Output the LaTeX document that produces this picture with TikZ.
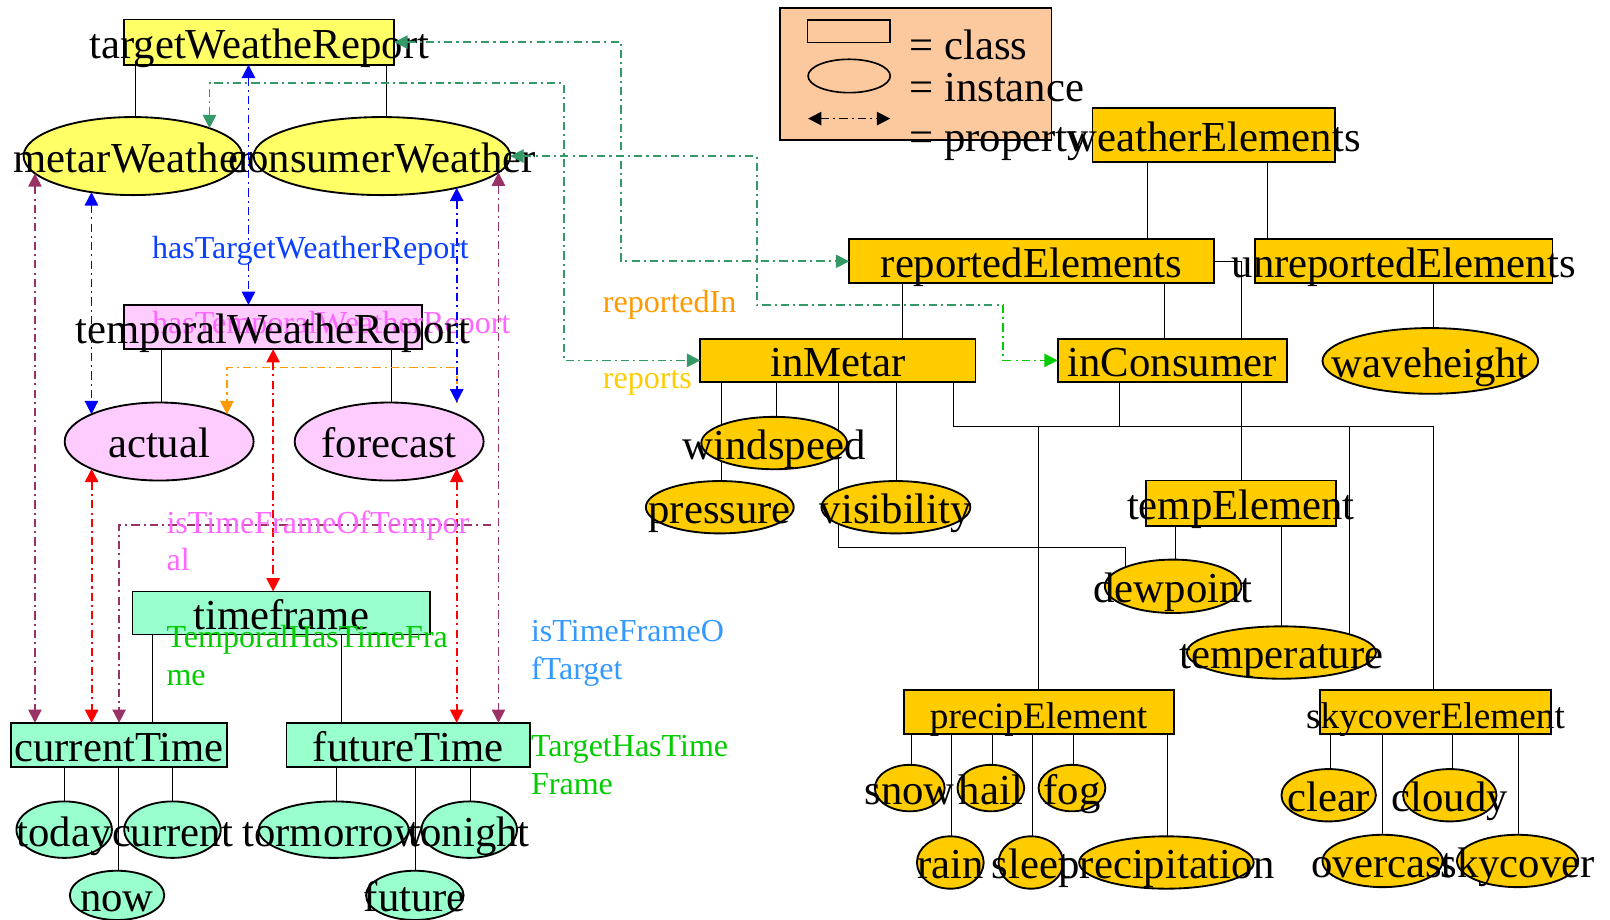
\documentclass[tikz,border=0pt]{standalone}
\usepackage{fontspec}
\setmainfont{Liberation Serif}
\usetikzlibrary{shapes.geometric,arrows.meta,backgrounds}

\definecolor{clsYellow}{HTML}{FFFF66}
\definecolor{clsPink}{HTML}{FFCCFF}
\definecolor{clsMint}{HTML}{99FFCC}
\definecolor{clsGold}{HTML}{FFCC00}
\definecolor{legendPeach}{HTML}{FCC99E}
\definecolor{propBlue}{HTML}{0000FF}
\definecolor{propRed}{HTML}{FF0000}
\definecolor{propPlum}{HTML}{993366}
\definecolor{propSea}{HTML}{339966}
\definecolor{propGreen}{HTML}{00CC00}
\definecolor{propOrange}{HTML}{FF9900}
\definecolor{txtBlue}{HTML}{0A40FF}
\definecolor{txtMagenta}{HTML}{FF66FF}
\definecolor{txtSky}{HTML}{3399FF}

\newcommand\FontBig{\fontsize{41.6pt}{48pt}\selectfont}
\newcommand\FontMid{\fontsize{36.3pt}{42pt}\selectfont}
\newcommand\FontSmall{\fontsize{31.2pt}{36pt}\selectfont}
% text that may spill over its shape without widening it
\newcommand\ovl[1]{\makebox[0pt]{#1}}

\begin{document}
\begin{tikzpicture}[x=1pt, y=-1pt, >={Triangle[length=13pt,width=13pt]},
  nd/.style={draw=black, line width=1.8pt, inner sep=0pt, outer sep=0pt,
             text height=32pt, text depth=0pt, font=\FontBig},
  cls/.style={nd, rectangle},
  inst/.style={nd, ellipse},
  sz/.style 2 args={minimum width=#1pt, minimum height=#2pt},
  treeline/.style={line width=1.8pt, black},
  propline/.style={line width=1.7pt, dash pattern=on 8pt off 4pt on 2pt off 4pt},
  lbl/.style={font=\FontSmall, inner sep=0pt, anchor=base west},
  leg/.style={font=\FontBig, inner sep=0pt, anchor=base west}]

\useasboundingbox (0,0) rectangle (1568,896);

% ---------- legend ----------
\node[draw, line width=1.8pt, fill=legendPeach, sz={264}{128}, inner sep=0pt] (legend) at (892,72) {};
\node[draw, line width=1.6pt, sz={80}{21.5}, inner sep=0pt] (legCls) at (826.5,30.5) {};
\node[draw, ellipse, line width=1.6pt, sz={80}{32.5}, inner sep=0pt] (legInst) at (827,74) {};
\coordinate (legA) at (787,115.5);
\coordinate (legB) at (867,115.5);
\draw[propline, <->] (legA) -- (legB);
\node[leg] (legT1) at (885.5,58.4) {= class};
\node[leg] (legT2) at (885.5,99) {= instance};
\node[leg] (legT3) at (885.5,147.7) {= property};

% ---------- weather report classes ----------
\node[cls, fill=clsYellow, sz={263}{44}] (tw) at (252.5,41) {\ovl{targetWeatheReport}};
\node[inst, fill=clsYellow, sz={213}{76}] (mw) at (129.5,152) {\ovl{metarWeather}};
\node[inst, fill=clsYellow, sz={250}{76}] (cw) at (372,152) {\ovl{consumerWeather}};

\node[cls, fill=clsPink, sz={290}{43}] (tr) at (266,318.5) {};
\node[lbl, text=txtMagenta] (lblTemporal) at (148,325) {hasTemporalWeatherReport};
\node[nd, draw=none, sz={290}{43}] (trText) at (tr.center) {\ovl{temporalWeatheReport}};
\node[inst, fill=clsPink, sz={184}{76}] (ac) at (155,430) {\ovl{actual}};
\node[inst, fill=clsPink, sz={184}{76}] (fc) at (379,430) {\ovl{forecast}};

% ---------- time frames ----------
\node[cls, fill=clsMint, sz={290}{42}] (tf) at (274,597) {\ovl{timeframe}};
\node[cls, fill=clsMint, sz={210}{43}] (ct) at (116,725.5) {\ovl{currentTime}};
\node[cls, fill=clsMint, sz={237}{43}] (ft) at (397.5,725.5) {\ovl{futureTime}};
\node[inst, fill=clsMint, sz={93}{55}] (today) at (62.5,808) {\ovl{today}};
\node[inst, fill=clsMint, sz={94}{55}] (current) at (168,808) {\ovl{current}};
\node[inst, fill=clsMint, sz={92}{48}] (now) at (114,872) {\ovl{now}};
\node[inst, fill=clsMint, sz={146}{55}] (tomorrow) at (325,808) {\ovl{tormorrow}};
\node[inst, fill=clsMint, sz={93}{55}] (tonight) at (457,808) {\ovl{tonight}};
\node[inst, fill=clsMint, sz={95}{48}] (future) at (404,872) {\ovl{future}};

% ---------- weather elements ----------
\node[cls, fill=clsGold, sz={236}{53}] (we) at (1182,131.5) {\ovl{weatherElements}};
\node[cls, fill=clsGold, sz={355}{43}] (re) at (1004.5,254.5) {\ovl{reportedElements}};
\node[cls, fill=clsGold, sz={290}{43}] (ur) at (1367,254.5) {\ovl{unreportedElements}};
\node[cls, fill=clsGold, sz={268}{42}] (im) at (816,351) {\ovl{inMetar}};
\node[cls, fill=clsGold, sz={223}{42}] (ic) at (1141.5,351) {\ovl{inConsumer}};
\node[inst, fill=clsGold, sz={210}{64}] (wh) at (1393,351.5) {\ovl{waveheight}};
\node[inst, fill=clsGold, sz={142}{51}] (ws) at (754,431.5) {\ovl{windspeed}};
\node[inst, fill=clsGold, sz={144}{51}] (pr) at (701,494) {\ovl{pressure}};
\node[inst, fill=clsGold, sz={145}{51}] (vi) at (872.5,494) {\ovl{visibility}};
\node[cls, fill=clsGold, sz={185}{44}] (te) at (1208.5,490) {\ovl{tempElement}};
\node[inst, fill=clsGold, sz={133}{52}] (dp) at (1142.5,571) {\ovl{dewpoint}};
\node[inst, fill=clsGold, sz={184}{51}] (tp) at (1248,635.5) {\ovl{temperature}};
\node[cls, fill=clsGold, sz={263}{43}, font=\FontMid] (pe) at (1011.5,693.5) {\ovl{precipElement}};
\node[cls, fill=clsGold, sz={225}{43}, font=\FontMid] (sk) at (1398,693.5) {\ovl{skycoverElement}};
\node[inst, fill=clsGold, sz={68}{45}] (sn) at (886,767.5) {\ovl{snow}};
\node[inst, fill=clsGold, sz={65}{45}] (ha) at (965,767.5) {\ovl{hail}};
\node[inst, fill=clsGold, sz={65}{45}] (fo) at (1044,767.5) {\ovl{fog}};
\node[inst, fill=clsGold, sz={65}{51}] (ra) at (925.5,840) {\ovl{rain}};
\node[inst, fill=clsGold, sz={63}{51}] (sl) at (1004,840) {\ovl{sleet}};
\node[inst, fill=clsGold, sz={170}{51}] (pc) at (1136,840) {\ovl{precipitation}};
\node[inst, fill=clsGold, sz={92}{51}] (cl) at (1294,774.5) {\ovl{clear}};
\node[inst, fill=clsGold, sz={91}{51}] (cd) at (1412,774.5) {\ovl{cloudy}};
\node[inst, fill=clsGold, sz={117}{51}] (oc) at (1346.5,838.5) {\ovl{overcast}};
\node[inst, fill=clsGold, sz={118}{51}] (sc) at (1478,838.5) {\ovl{skycover}};

% ---------- hierarchy lines (behind the shapes) ----------
\coordinate (j1) at (816,533);
\coordinate (j2) at (928,415);
\coordinate (j3) at (1396,415);
\begin{scope}[on background layer, treeline]
\draw (tw.south -| 132,0) -- (mw.center -| 132,0);
\draw (tw.south -| 376,0) -- (cw.center -| 376,0);
\draw (tr.south -| 157,0) -- (ac.center -| 157,0);
\draw (tr.south -| 381,0) -- (fc.center -| 381,0);
\draw (tf.south -| 148,0) -- (ct.center -| 148,0);
\draw (tf.south -| 332,0) -- (ft.center -| 332,0);
\draw (ct.south -| 63,0) -- (today.center -| 63,0);
\draw (ct.south -| 115,0) -- (now.center -| 115,0);
\draw (ct.south -| 168,0) -- (current.center -| 168,0);
\draw (ft.south -| 327,0) -- (tomorrow.center -| 327,0);
\draw (ft.south -| 404,0) -- (future.center -| 404,0);
\draw (ft.south -| 458,0) -- (tonight.center -| 458,0);

\draw (we.south -| 1117,0) -- (re.center -| 1117,0);
\draw (we.south -| 1234,0) -- (ur.center -| 1234,0);
\draw (re.south -| 879,0) -- (im.center -| 879,0);
\draw (re.south -| 1134,0) -- (ic.center -| 1134,0);
\draw (re.east) -| (te.center -| 1209,0);
\draw (ur.south -| 1396,0) -- (wh.center -| 1396,0);
\draw (im.south -| 756,0) -- (ws.center -| 756,0);
\draw (im.south -| 702,0) -- (pr.center -| 702,0);
\draw (im.south -| 873,0) -- (vi.center -| 873,0);
\draw (im.south -| j1) -- (j1) -| (dp.center -| 1096,0);
\draw (im.south -| j2) -- (j2) -- (j3) -- (sk.center -| j3);
\draw (ic.south -| 1090,0) -- (1090,0 |- j2);
\draw (1011,0 |- j2) -- (pe.center -| 1011,0);
\draw (1314,0 |- j2) -- (tp.center -| 1314,0);
\draw (te.south -| 1145,0) -- (dp.center -| 1145,0);
\draw (te.south -| 1248,0) -- (tp.center -| 1248,0);
\draw (pe.south -| 887,0) -- (sn.center -| 887,0);
\draw (pe.south -| 966,0) -- (ha.center -| 966,0);
\draw (pe.south -| 1045,0) -- (fo.center -| 1045,0);
\draw (pe.south -| 926,0) -- (ra.center -| 926,0);
\draw (pe.south -| 1005,0) -- (sl.center -| 1005,0);
\draw (pe.south -| 1137,0) -- (pc.center -| 1137,0);
\draw (sk.south -| 1295.5,0) -- (cl.center -| 1295.5,0);
\draw (sk.south -| 1414,0) -- (cd.center -| 1414,0);
\draw (sk.south -| 1346.5,0) -- (oc.center -| 1346.5,0);
\draw (sk.south -| 1478.5,0) -- (sc.center -| 1478.5,0);
\end{scope}

% ---------- properties ----------
\coordinate (g1) at (605,254.5);
\coordinate (g3) at (549,81);
\coordinate (g2a) at (737,297);
\coordinate (g2b) at (977,297);
\coordinate (o1) at (221,358);
\coordinate (p3) at (478,511);

\draw[propline, propSea, <->] (tw.east) -| (g1) -- (re.west);
\draw[propline, propSea, <->] (mw.20) |- (g3) |- (im.west);
\draw[propline, propSea, <-] (cw.east) -| (g2a) -- (g2b);
\draw[propline, propGreen, ->] (g2b) |- (ic.west);

\draw[propline, propOrange, ->] (cw.337 |- fc.north) |- (o1) -- (o1 |- ac.22);

\draw[propline, propBlue, <->] (tw.south -| 242,0) -- (tr.north -| 242,0);
\draw[propline, propBlue, <->] (mw.221) -- (mw.221 |- ac.158);
\draw[propline, propBlue, <->] (cw.337) -- (cw.337 |- fc.north);

\draw[propline, propRed, <->] (tr.south -| 266,0) -- (tf.north -| 266,0);
\draw[propline, propRed, <->] (ac.202) -- (ac.202 |- ct.north);
\draw[propline, propRed, <->] (fc.338) -- (fc.338 |- ft.north);

\draw[propline, propPlum, <->] (mw.190) -- (mw.190 |- ct.north);
\draw[propline, propPlum, <->] (cw.352) -- (cw.352 |- ft.north);
\draw[propline, propPlum, ->] (p3) -| (ct.north);

% ---------- property names ----------
\node[lbl, text=txtBlue] (lblTarget) at (148,251.5) {hasTargetWeatherReport};
\node[lbl, text=propOrange] (lblRepIn) at (587,304) {reportedIn};
\node[lbl, text=clsGold] (lblReports) at (587,378) {reports};
\node[lbl, text=txtMagenta] (lblTF1) at (162,520) {isTimeFrameOfTempor};
\node[lbl, text=txtMagenta] (lblTF2) at (162,556) {al};
\node[lbl, text=propGreen] (lblTH1) at (162,631) {TemporalHasTimeFra};
\node[lbl, text=propGreen] (lblTH2) at (162,668) {me};
\node[lbl, text=txtSky] (lblTT1) at (517,625) {isTimeFrameO};
\node[lbl, text=txtSky] (lblTT2) at (517,662) {fTarget};
\node[lbl, text=propGreen] (lblTG1) at (517,737) {TargetHasTime};
\node[lbl, text=propGreen] (lblTG2) at (517,774) {Frame};

\end{tikzpicture}
\end{document}
